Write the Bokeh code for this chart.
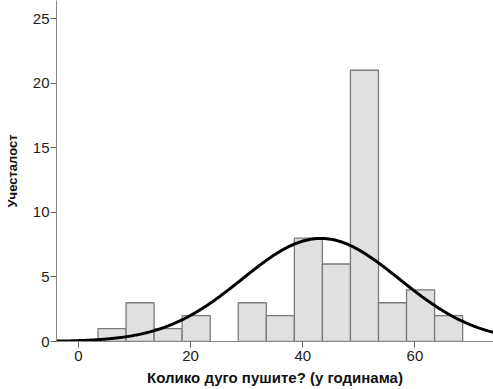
import numpy as np
from bokeh.plotting import figure
from bokeh.models import ColumnDataSource, FixedTicker, Range1d
from bokeh.embed import file_html
from bokeh.resources import INLINE

# Histogram data (bins of 5 years)
bin_left = [3.5, 8.5, 13.5, 18.5, 23.5, 28.5, 33.5, 38.5, 43.5, 48.5, 53.5, 58.5, 63.5]
bin_right = [8.5, 13.5, 18.5, 23.5, 28.5, 33.5, 38.5, 43.5, 48.5, 53.5, 58.5, 63.5, 68.5]
counts = [1, 3, 1, 2, 0, 3, 2, 8, 6, 21, 3, 4, 2]

# Fitted normal curve parameters
fit_mean = 43.2
fit_sd = 14.0
bin_width = 5.0
n_total = sum(counts)

x_ticks = [0, 20, 40, 60]
y_ticks = [0, 5, 10, 15, 20, 25]

FONT = "Liberation Sans"

p = figure(width=493, height=389, output_backend="svg", toolbar_location=None,
           x_range=Range1d(-3.9, 74.0), y_range=Range1d(0, 26.4),
           min_border_left=56, min_border_right=0, min_border_top=0, min_border_bottom=48)
p.outline_line_color = None
p.grid.visible = False
p.background_fill_color = "white"

nz = [i for i, c in enumerate(counts) if c > 0]
src = ColumnDataSource(dict(left=[bin_left[i] for i in nz], right=[bin_right[i] for i in nz],
                            top=[counts[i] for i in nz]))
p.quad(left="left", right="right", bottom=0, top="top", source=src,
       fill_color="#e0e0e0", line_color="#7a7a7a", line_width=1.3)

xs = np.linspace(-3.9, 74.0, 400)
ys = n_total * bin_width / (fit_sd * np.sqrt(2 * np.pi)) * np.exp(-0.5 * ((xs - fit_mean) / fit_sd) ** 2)
p.line(xs, ys, line_color="black", line_width=3)

for ax in (p.xaxis[0], p.yaxis[0]):
    ax.axis_line_color = "#888888"
    ax.major_tick_line_color = "#666666"
    ax.major_tick_out = 6
    ax.major_tick_in = 0
    ax.minor_tick_line_color = None
    ax.major_label_text_font = FONT
    ax.major_label_text_font_size = "15px"
    ax.major_label_text_color = "#222222"
    ax.axis_label_text_font = FONT
    ax.axis_label_text_font_style = "bold"
    ax.axis_label_text_color = "#111111"

p.xaxis[0].axis_label_text_font_size = "15px"
p.yaxis[0].axis_label_text_font_size = "13px"
p.xaxis[0].ticker = FixedTicker(ticks=x_ticks)
p.yaxis[0].ticker = FixedTicker(ticks=y_ticks)
p.xaxis[0].axis_label = "Колико дуго пушите? (у годинама)"
p.yaxis[0].axis_label = "Учесталост"
p.xaxis[0].major_label_standoff = 3
p.xaxis[0].axis_label_standoff = 5
p.yaxis[0].major_label_standoff = 1
p.yaxis[0].axis_label_standoff = 10

open("out.html", "w").write(file_html(p, INLINE))
